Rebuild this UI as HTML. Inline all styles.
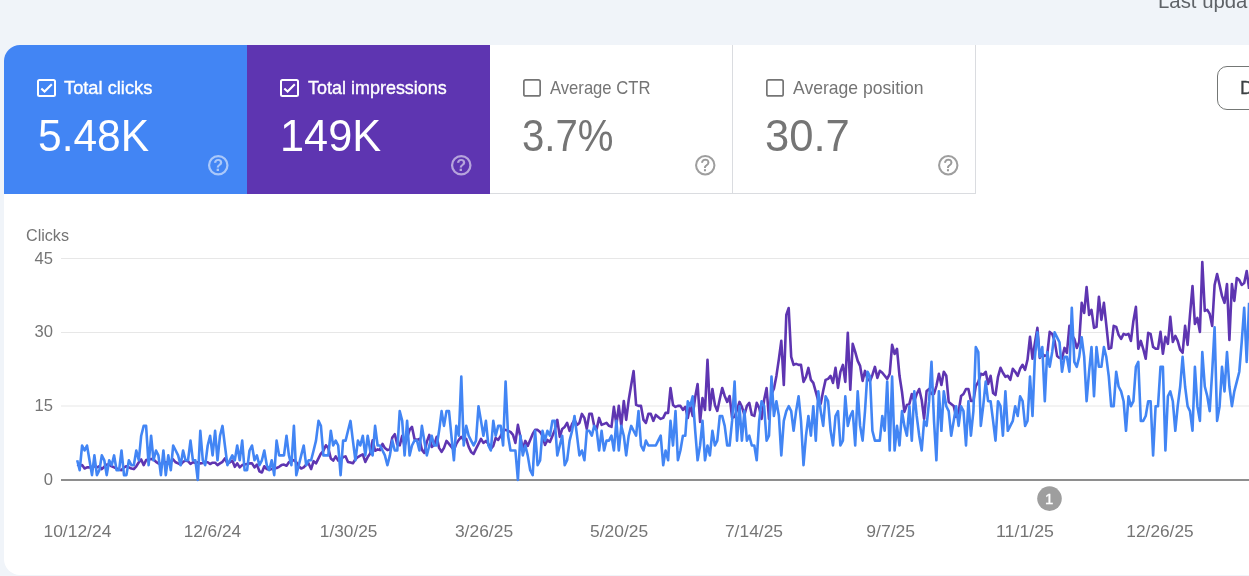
<!DOCTYPE html>
<html><head><meta charset="utf-8"><title>Performance</title>
<style>
html,body{margin:0;padding:0;}
body{width:1249px;height:576px;overflow:hidden;background:#f0f4f9;font-family:"Liberation Sans",sans-serif;position:relative;}
.upd{position:absolute;top:-8.8px;font-size:19.4px;line-height:20px;color:#5f6368;white-space:nowrap;transform-origin:0 50%;left:1158.40px;transform:scaleX(1.0500);}
.card{position:absolute;left:4px;top:45px;width:1300px;height:530px;background:#fff;border-radius:16px 0 0 16px;overflow:hidden;}
.m{position:absolute;top:0;height:149px;width:243px;box-sizing:border-box;}
.m1{left:0;background:#4285f4;color:#fff;}
.m2{left:243px;background:#5e35b1;color:#fff;}
.m3{left:486px;border-right:1px solid #dadce0;border-bottom:1px solid #dadce0;color:#757575;}
.m4{left:729px;border-right:1px solid #dadce0;border-bottom:1px solid #dadce0;color:#757575;}
.cb{position:absolute;left:33px;top:34px;width:19px;height:18px;box-sizing:border-box;border:2px solid #fff;border-radius:2.5px;}
.m3 .cb,.m4 .cb{border:none;width:18px;}
.cb svg{position:absolute;left:-2px;top:-2px;}
.lbl{position:absolute;top:33.1px;font-size:18.2px;line-height:20px;white-space:nowrap;transform-origin:0 50%;}
.m1 .lbl,.m2 .lbl{-webkit-text-stroke:0.35px #fff;}
.val{position:absolute;top:67px;font-size:45px;line-height:48px;white-space:nowrap;transform-origin:0 50%;}
.q{position:absolute;left:202.45px;top:107.7px;width:24.5px;height:24.5px;}
.btn{position:absolute;left:1213px;top:21.3px;width:80px;height:43.4px;border:1px solid #747775;border-radius:10px;box-sizing:border-box;color:#3c4043;font-size:18.8px;-webkit-text-stroke:0.3px #3c4043;line-height:41px;padding-left:22px;white-space:nowrap;overflow:hidden;}
.m3 .q,.m4 .q{left:203.1px;}
svg.chart{position:absolute;left:-4px;top:-45px;}
svg text{font-family:"Liberation Sans",sans-serif;}
</style></head><body>
<div class="upd">Last updated: 3 hours ago</div>
<div class="card">
 <div class="m m1"><div class="cb"><svg width="19" height="18" viewBox="0 0 19 18"><path d="M4.3 9.4 L7.6 12.6 L14.8 5.3" fill="none" stroke="#fff" stroke-width="2.1"/></svg></div><div class="lbl" style="left:60.20px;transform:scaleX(1.0040);">Total clicks</div><div class="val" style="left:33.50px;transform:scaleX(0.9440);">5.48K</div>
  <svg class="q" viewBox="0 0 24 24"><circle cx="12" cy="12" r="9" fill="none" stroke="#fff" stroke-opacity=".55" stroke-width="2.2"/><text x="12" y="18.1" font-size="15.8" font-weight="bold" text-anchor="middle" fill="#fff" fill-opacity=".55">?</text></svg></div>
 <div class="m m2"><div class="cb"><svg width="19" height="18" viewBox="0 0 19 18"><path d="M4.3 9.4 L7.6 12.6 L14.8 5.3" fill="none" stroke="#fff" stroke-width="2.1"/></svg></div><div class="lbl" style="left:60.50px;transform:scaleX(0.9880);">Total impressions</div><div class="val" style="left:32.50px;transform:scaleX(0.9620);">149K</div>
  <svg class="q" viewBox="0 0 24 24"><circle cx="12" cy="12" r="9" fill="none" stroke="#fff" stroke-opacity=".55" stroke-width="2.2"/><text x="12" y="18.1" font-size="15.8" font-weight="bold" text-anchor="middle" fill="#fff" fill-opacity=".55">?</text></svg></div>
 <div class="m m3"><div class="cb"><svg style="left:0;top:0" width="18" height="18" viewBox="0 0 18 18"><rect x="0.85" y="0.85" width="16.3" height="16.1" rx="1.8" fill="none" stroke="#757575" stroke-width="1.7"/></svg></div><div class="lbl" style="left:59.80px;transform:scaleX(0.9140);">Average CTR</div><div class="val" style="left:32.40px;transform:scaleX(0.8930);">3.7%</div>
  <svg class="q" viewBox="0 0 24 24"><circle cx="12" cy="12" r="9" fill="none" stroke="#757575" stroke-opacity=".7" stroke-width="2"/><text x="12" y="18.1" font-size="15.8" font-weight="normal" stroke="#757575" stroke-opacity=".7" stroke-width=".45" text-anchor="middle" fill="#757575" fill-opacity=".7">?</text></svg></div>
 <div class="m m4"><div class="cb"><svg style="left:0;top:0" width="18" height="18" viewBox="0 0 18 18"><rect x="0.85" y="0.85" width="16.3" height="16.1" rx="1.8" fill="none" stroke="#757575" stroke-width="1.7"/></svg></div><div class="lbl" style="left:59.70px;transform:scaleX(0.9660);">Average position</div><div class="val" style="left:32.40px;transform:scaleX(0.9690);">30.7</div>
  <svg class="q" viewBox="0 0 24 24"><circle cx="12" cy="12" r="9" fill="none" stroke="#757575" stroke-opacity=".7" stroke-width="2"/><text x="12" y="18.1" font-size="15.8" font-weight="normal" stroke="#757575" stroke-opacity=".7" stroke-width=".45" text-anchor="middle" fill="#757575" fill-opacity=".7">?</text></svg></div>
 <div class="btn">Date: Last 16 months</div>
 <svg class="chart" width="1304" height="576" viewBox="0 0 1304 576">
  <g stroke="#e7e7e7" stroke-width="1.1">
   <line x1="61" x2="1304" y1="258.5" y2="258.5"/><line x1="61" x2="1304" y1="332.5" y2="332.5"/><line x1="61" x2="1304" y1="406" y2="406"/>
  </g>
  <line x1="61" x2="1304" y1="480" y2="480" stroke="#8e8e8e" stroke-width="2"/>
  <g font-size="16.6" fill="#757575">
   <text x="26" y="241.3" textLength="43" lengthAdjust="spacingAndGlyphs">Clicks</text>
   <text x="53" y="264" text-anchor="end">45</text>
   <text x="53" y="337.2" text-anchor="end">30</text>
   <text x="53" y="411" text-anchor="end">15</text>
   <text x="53" y="484.6" text-anchor="end">0</text>
   <g text-anchor="middle">
   <text x="77.4" y="537.2" textLength="67.9" lengthAdjust="spacingAndGlyphs">10/12/24</text>
   <text x="212.4" y="537.2" textLength="57.5" lengthAdjust="spacingAndGlyphs">12/6/24</text>
   <text x="348.6" y="537.2" textLength="57.5" lengthAdjust="spacingAndGlyphs">1/30/25</text>
   <text x="484.0" y="537.2" textLength="58.2" lengthAdjust="spacingAndGlyphs">3/26/25</text>
   <text x="619.1" y="537.2" textLength="58.1" lengthAdjust="spacingAndGlyphs">5/20/25</text>
   <text x="754.0" y="537.2" textLength="58.1" lengthAdjust="spacingAndGlyphs">7/14/25</text>
   <text x="890.7" y="537.2" textLength="48.9" lengthAdjust="spacingAndGlyphs">9/7/25</text>
   <text x="1025.0" y="537.2" textLength="58.0" lengthAdjust="spacingAndGlyphs">11/1/25</text>
   <text x="1160.0" y="537.2" textLength="67.3" lengthAdjust="spacingAndGlyphs">12/26/25</text>
   </g>
  </g>
  <polyline fill="none" stroke="#5e35b1" stroke-width="2.6" stroke-linejoin="round" points="77.2,464.6 79.7,465.7 82.1,465.1 84.6,468.5 87.0,467.4 89.5,467.4 92.0,466.8 94.4,466.3 96.9,467.4 99.4,466.3 101.8,469.1 104.3,466.8 106.7,464.6 109.2,464.6 111.7,466.3 114.1,467.4 116.6,468.5 119.1,469.7 121.5,470.2 124.0,467.4 126.4,466.3 128.9,467.4 131.4,468.5 133.8,469.1 136.3,466.3 138.8,462.3 141.2,459.5 143.7,465.1 146.1,460.1 148.6,459.5 151.1,458.9 153.5,459.5 156.0,461.8 158.4,463.4 160.9,464.0 163.4,462.9 165.8,462.3 168.3,463.4 170.8,461.8 173.2,459.5 175.7,462.3 178.1,463.4 180.6,464.6 183.1,461.8 185.5,460.6 188.0,461.2 190.5,464.0 192.9,462.3 195.4,462.9 197.8,462.3 200.3,463.4 202.8,462.9 205.2,462.3 207.7,462.3 210.1,464.0 212.6,462.7 215.1,462.7 217.5,465.1 220.0,463.4 222.5,461.8 224.9,458.4 227.4,463.4 229.8,462.3 232.3,460.6 234.8,466.8 237.2,463.4 239.7,467.4 242.2,465.1 244.6,464.6 247.1,464.0 249.5,463.4 252.0,463.4 254.5,467.4 256.9,464.6 259.4,471.3 261.9,472.5 264.3,466.3 266.8,469.1 269.2,469.7 271.7,469.1 274.2,468.5 276.6,468.0 279.1,466.8 281.5,465.1 284.0,464.6 286.5,465.7 288.9,462.3 291.4,461.2 293.9,460.1 296.3,462.3 298.8,466.3 301.2,468.5 303.7,467.4 306.2,464.6 308.6,463.4 311.1,469.1 313.6,461.2 316.0,463.4 318.5,458.4 320.9,453.6 323.4,450.8 325.9,445.3 328.3,448.1 330.8,458.5 333.2,460.6 335.7,456.4 338.2,460.6 340.6,459.9 343.1,457.1 345.6,456.4 348.0,461.9 350.5,462.6 352.9,463.3 355.4,459.2 357.9,457.1 360.3,455.7 362.8,454.3 365.3,461.9 367.7,457.1 370.2,453.6 372.6,440.4 375.1,450.8 377.6,449.4 380.0,450.1 382.5,443.9 384.9,448.1 387.4,450.1 389.9,449.4 392.3,437.6 394.8,434.2 397.3,444.6 399.7,445.3 402.2,435.9 404.6,445.9 407.1,437.9 409.6,429.9 412.0,426.9 414.5,438.9 417.0,439.9 419.4,438.9 421.9,449.9 424.3,452.9 426.8,441.9 429.3,434.9 431.7,446.9 434.2,444.9 436.7,436.9 439.1,447.9 441.6,451.9 444.0,447.9 446.5,440.9 449.0,443.9 451.4,446.9 453.9,449.9 456.3,443.9 458.8,439.9 461.3,436.9 463.7,439.9 466.2,438.9 468.7,446.9 471.1,451.9 473.6,453.9 476.0,448.9 478.5,443.9 481.0,438.9 483.4,442.9 485.9,440.9 488.4,443.9 490.8,448.9 493.3,445.9 495.7,437.9 498.2,439.9 500.7,435.9 503.1,430.9 505.6,429.9 508.1,430.9 510.5,431.9 513.0,434.9 515.4,442.9 517.9,424.9 520.4,436.9 522.8,448.9 525.3,440.9 527.7,445.9 530.2,439.9 532.7,433.9 535.1,429.9 537.6,429.9 540.1,431.9 542.5,435.9 545.0,444.9 547.4,439.9 549.9,441.9 552.4,435.9 554.8,429.9 557.3,419.9 559.8,436.9 562.2,428.9 564.7,426.9 567.1,422.9 569.6,430.9 572.1,423.9 574.5,419.9 577.0,424.9 579.4,422.9 581.9,413.9 584.4,417.9 586.8,428.9 589.3,413.9 591.8,413.9 594.2,425.9 596.7,428.9 599.1,417.9 601.6,424.9 604.1,423.9 606.5,422.9 609.0,425.9 611.5,426.9 613.9,406.9 616.4,424.9 618.8,405.9 621.3,425.9 623.8,401.0 626.2,419.9 628.7,400.0 631.2,385.0 633.6,371.0 636.1,404.9 638.5,405.9 641.0,405.9 643.5,419.9 645.9,422.9 648.4,413.9 650.8,413.9 653.3,420.9 655.8,414.9 658.2,416.9 660.7,418.9 663.2,417.9 665.6,412.9 668.1,412.9 670.5,388.0 673.0,404.9 675.5,406.9 677.9,405.9 680.4,405.9 682.9,409.9 685.3,406.9 687.8,417.9 690.2,404.9 692.7,415.9 695.2,397.0 697.6,384.0 700.1,421.9 702.5,398.0 705.0,409.9 707.5,359.9 709.9,409.9 712.4,389.0 714.9,404.9 717.3,410.9 719.8,399.0 722.2,388.0 724.7,396.0 727.2,401.9 729.6,396.0 732.1,417.9 734.6,416.9 737.0,409.9 739.5,401.9 741.9,406.9 744.4,414.9 746.9,405.9 749.3,402.9 751.8,414.9 754.3,415.9 756.7,402.9 759.2,407.9 761.6,418.9 764.1,400.0 766.6,388.0 769.0,418.9 771.5,394.0 773.9,388.8 776.4,375.9 778.9,358.9 781.3,340.9 783.8,384.9 786.3,315.0 788.7,308.0 791.2,356.9 793.6,364.9 796.1,363.9 798.6,364.9 801.0,364.9 803.5,381.9 806.0,376.9 808.4,367.9 810.9,379.9 813.3,382.9 815.8,391.8 818.3,400.8 820.7,403.8 823.2,390.8 825.6,379.9 828.1,378.9 830.6,375.9 833.0,382.9 835.5,367.9 838.0,387.9 840.4,371.9 842.9,364.9 845.3,381.9 847.8,332.9 850.3,389.8 852.7,343.9 855.2,351.9 857.7,360.9 860.1,365.9 862.6,380.9 865.0,370.9 867.5,378.9 870.0,380.9 872.4,374.9 874.9,366.9 877.4,377.9 879.8,370.8 882.3,372.8 884.7,375.8 887.2,378.8 889.7,373.8 892.1,344.9 894.6,353.9 897.0,348.9 899.5,375.8 902.0,392.0 904.4,411.9 906.9,404.9 909.4,403.9 911.8,394.0 914.3,401.0 916.7,394.0 919.2,389.0 921.7,400.0 924.1,418.9 926.6,391.0 929.1,389.0 931.5,394.0 934.0,394.0 936.4,386.0 938.9,373.8 941.4,385.0 943.8,371.8 946.3,375.8 948.7,401.9 951.2,403.9 953.7,405.9 956.1,416.9 958.6,411.9 961.1,396.0 963.5,394.0 966.0,389.0 968.4,389.0 970.9,401.0 973.4,401.0 975.8,386.0 978.3,382.0 980.8,373.8 983.2,374.8 985.7,371.8 988.1,384.0 990.6,375.8 993.1,393.0 995.5,395.0 998.0,376.8 1000.5,367.8 1002.9,372.8 1005.4,376.8 1007.8,375.8 1010.3,379.8 1012.8,368.8 1015.2,371.8 1017.7,375.8 1020.1,368.8 1022.6,364.8 1025.1,369.8 1027.5,359.8 1030.0,336.9 1032.5,358.8 1034.9,342.9 1037.4,327.9 1039.8,357.9 1042.3,353.9 1044.8,355.9 1047.2,354.9 1049.7,331.9 1052.2,333.9 1054.6,340.9 1057.1,355.9 1059.5,357.9 1062.0,358.8 1064.5,347.9 1066.9,352.9 1069.4,325.9 1071.8,334.9 1074.3,338.9 1076.8,347.9 1079.2,341.9 1081.7,302.9 1084.2,312.9 1086.6,287.0 1089.1,314.9 1091.5,309.9 1094.0,327.9 1096.5,326.9 1098.9,296.9 1101.4,319.9 1103.9,302.9 1106.3,324.9 1108.8,348.8 1111.2,347.9 1113.7,325.9 1116.2,326.9 1118.6,334.9 1121.1,338.9 1123.6,333.9 1126.0,334.9 1128.5,333.9 1130.9,340.9 1133.4,320.9 1135.9,306.9 1138.3,348.8 1140.8,340.9 1143.2,348.8 1145.7,358.8 1148.2,332.9 1150.6,333.9 1153.1,346.9 1155.6,348.8 1158.0,348.8 1160.5,331.9 1162.9,353.8 1165.4,336.9 1167.9,343.9 1170.3,316.9 1172.8,341.9 1175.3,335.9 1177.7,340.9 1180.2,349.8 1182.6,352.8 1185.1,325.9 1187.6,344.9 1190.0,314.9 1192.5,286.0 1194.9,323.9 1197.4,317.9 1199.9,331.9 1202.3,262.0 1204.8,310.9 1207.3,309.9 1209.7,313.9 1212.2,325.9 1214.6,285.0 1217.1,274.0 1219.6,285.0 1222.0,295.9 1224.5,302.9 1227.0,284.0 1229.4,339.9 1231.9,284.0 1234.3,300.9 1236.8,278.0 1239.3,280.0 1241.7,285.0 1244.2,283.0 1246.7,271.0 1249.1,288.9"/>
  <polyline fill="none" stroke="#4285f4" stroke-width="2.6" stroke-linejoin="round" points="77.2,460.3 79.7,470.2 82.1,445.5 84.6,450.5 87.0,445.5 89.5,460.3 92.0,475.1 94.4,455.4 96.9,475.1 99.4,470.2 101.8,455.4 104.3,460.3 106.7,475.1 109.2,460.3 111.7,465.2 114.1,455.4 116.6,470.2 119.1,470.2 121.5,450.5 124.0,475.1 126.4,475.1 128.9,460.3 131.4,465.2 133.8,465.2 136.3,450.5 138.8,460.3 141.2,435.7 143.7,425.9 146.1,425.9 148.6,465.2 151.1,435.7 153.5,460.3 156.0,450.5 158.4,455.4 160.9,475.1 163.4,450.5 165.8,475.1 168.3,455.4 170.8,470.2 173.2,445.5 175.7,450.5 178.1,455.4 180.6,465.2 183.1,450.5 185.5,460.3 188.0,460.3 190.5,440.6 192.9,460.3 195.4,460.3 197.8,480.0 200.3,430.8 202.8,460.3 205.2,465.2 207.7,445.5 210.1,435.7 212.6,455.4 215.1,430.8 217.5,460.3 220.0,435.7 222.5,425.9 224.9,445.5 227.4,465.2 229.8,460.3 232.3,455.4 234.8,460.3 237.2,445.5 239.7,460.3 242.2,440.6 244.6,470.2 247.1,470.2 249.5,450.5 252.0,445.5 254.5,460.3 256.9,455.4 259.4,465.2 261.9,460.3 264.3,450.5 266.8,465.2 269.2,470.2 271.7,460.3 274.2,475.1 276.6,440.6 279.1,455.4 281.5,455.4 284.0,455.4 286.5,435.7 288.9,455.4 291.4,465.2 293.9,425.9 296.3,475.1 298.8,465.2 301.2,455.4 303.7,445.5 306.2,465.2 308.6,460.3 311.1,460.3 313.6,450.5 316.0,440.6 318.5,420.9 320.9,425.9 323.4,455.4 325.9,455.4 328.3,455.4 330.8,430.8 333.2,445.5 335.7,440.6 338.2,445.5 340.6,475.1 343.1,440.6 345.6,440.6 348.0,430.8 350.5,420.9 352.9,440.6 355.4,460.3 357.9,440.6 360.3,445.5 362.8,435.7 365.3,455.4 367.7,435.7 370.2,450.5 372.6,455.4 375.1,425.9 377.6,445.5 380.0,445.5 382.5,450.5 384.9,455.4 387.4,465.2 389.9,455.4 392.3,440.6 394.8,450.5 397.3,450.5 399.7,411.1 402.2,420.9 404.6,455.4 407.1,420.9 409.6,455.4 412.0,445.5 414.5,440.6 417.0,440.6 419.4,450.5 421.9,425.9 424.3,440.6 426.8,455.4 429.3,445.5 431.7,435.7 434.2,445.5 436.7,445.5 439.1,430.8 441.6,411.1 444.0,425.9 446.5,411.1 449.0,411.1 451.4,435.7 453.9,460.3 456.3,425.9 458.8,435.7 461.3,376.6 463.7,445.5 466.2,425.9 468.7,435.7 471.1,440.6 473.6,445.5 476.0,440.6 478.5,406.2 481.0,420.9 483.4,435.7 485.9,420.9 488.4,445.5 490.8,450.5 493.3,420.9 495.7,435.7 498.2,425.9 500.7,425.9 503.1,445.5 505.6,381.6 508.1,435.7 510.5,450.5 513.0,450.5 515.4,450.5 517.9,480.0 520.4,435.7 522.8,455.4 525.3,445.5 527.7,455.4 530.2,470.2 532.7,475.1 535.1,430.8 537.6,465.2 540.1,460.3 542.5,430.8 545.0,440.6 547.4,430.8 549.9,435.7 552.4,420.9 554.8,420.9 557.3,455.4 559.8,445.5 562.2,435.7 564.7,465.2 567.1,460.3 569.6,440.6 572.1,430.8 574.5,416.0 577.0,435.7 579.4,455.4 581.9,450.5 584.4,460.3 586.8,430.8 589.3,430.8 591.8,435.7 594.2,425.9 596.7,430.8 599.1,450.5 601.6,430.8 604.1,450.5 606.5,440.6 609.0,440.6 611.5,435.7 613.9,450.5 616.4,420.9 618.8,450.5 621.3,425.9 623.8,435.7 626.2,455.4 628.7,435.7 631.2,425.9 633.6,430.8 636.1,435.7 638.5,411.1 641.0,445.5 643.5,450.5 645.9,440.6 648.4,445.5 650.8,445.5 653.3,445.5 655.8,445.5 658.2,440.6 660.7,435.7 663.2,465.2 665.6,450.5 668.1,460.3 670.5,420.9 673.0,445.5 675.5,411.1 677.9,460.3 680.4,450.5 682.9,435.7 685.3,435.7 687.8,401.2 690.2,406.2 692.7,396.3 695.2,430.8 697.6,460.3 700.1,445.5 702.5,420.9 705.0,460.3 707.5,445.5 709.9,455.4 712.4,430.8 714.9,445.5 717.3,440.6 719.8,416.0 722.2,416.0 724.7,425.9 727.2,445.5 729.6,445.5 732.1,420.9 734.6,381.6 737.0,440.6 739.5,406.2 741.9,440.6 744.4,411.1 746.9,440.6 749.3,435.7 751.8,445.5 754.3,445.5 756.7,460.3 759.2,420.9 761.6,401.2 764.1,406.2 766.6,440.6 769.0,435.7 771.5,376.6 773.9,416.0 776.4,401.2 778.9,416.0 781.3,455.4 783.8,420.9 786.3,411.1 788.7,406.2 791.2,411.1 793.6,430.8 796.1,411.1 798.6,396.3 801.0,420.9 803.5,465.2 806.0,435.7 808.4,416.0 810.9,435.7 813.3,406.2 815.8,440.6 818.3,391.4 820.7,411.1 823.2,425.9 825.6,396.3 828.1,401.2 830.6,430.8 833.0,445.5 835.5,416.0 838.0,411.1 840.4,445.5 842.9,440.6 845.3,396.3 847.8,425.9 850.3,416.0 852.7,411.1 855.2,445.5 857.7,391.4 860.1,425.9 862.6,440.6 865.0,411.1 867.5,371.7 870.0,376.6 872.4,430.8 874.9,440.6 877.4,440.6 879.8,440.6 882.3,416.0 884.7,430.8 887.2,381.6 889.7,450.5 892.1,376.6 894.6,450.5 897.0,425.9 899.5,445.5 902.0,411.1 904.4,425.9 906.9,435.7 909.4,406.2 911.8,440.6 914.3,391.4 916.7,416.0 919.2,435.7 921.7,450.5 924.1,420.9 926.6,425.9 929.1,401.2 931.5,361.9 934.0,420.9 936.4,460.3 938.9,391.4 941.4,430.8 943.8,391.4 946.3,406.2 948.7,411.1 951.2,435.7 953.7,420.9 956.1,406.2 958.6,425.9 961.1,406.2 963.5,411.1 966.0,445.5 968.4,401.2 970.9,435.7 973.4,411.1 975.8,347.1 978.3,352.0 980.8,425.9 983.2,406.2 985.7,381.6 988.1,401.2 990.6,401.2 993.1,420.9 995.5,440.6 998.0,401.2 1000.5,406.2 1002.9,435.7 1005.4,391.4 1007.8,430.8 1010.3,425.9 1012.8,420.9 1015.2,406.2 1017.7,416.0 1020.1,396.3 1022.6,401.2 1025.1,425.9 1027.5,420.9 1030.0,376.6 1032.5,416.0 1034.9,356.9 1037.4,332.3 1039.8,356.9 1042.3,347.1 1044.8,401.2 1047.2,352.0 1049.7,366.8 1052.2,352.0 1054.6,332.3 1057.1,337.3 1059.5,342.2 1062.0,371.7 1064.5,356.9 1066.9,356.9 1069.4,371.7 1071.8,307.7 1074.3,361.9 1076.8,366.8 1079.2,356.9 1081.7,337.3 1084.2,356.9 1086.6,401.2 1089.1,371.7 1091.5,347.1 1094.0,396.3 1096.5,347.1 1098.9,366.8 1101.4,366.8 1103.9,347.1 1106.3,356.9 1108.8,376.6 1111.2,406.2 1113.7,406.2 1116.2,371.7 1118.6,386.5 1121.1,391.4 1123.6,401.2 1126.0,430.8 1128.5,396.3 1130.9,406.2 1133.4,401.2 1135.9,366.8 1138.3,361.9 1140.8,420.9 1143.2,420.9 1145.7,416.0 1148.2,401.2 1150.6,401.2 1153.1,455.4 1155.6,406.2 1158.0,406.2 1160.5,366.8 1162.9,366.8 1165.4,450.5 1167.9,396.3 1170.3,391.4 1172.8,401.2 1175.3,430.8 1177.7,406.2 1180.2,386.5 1182.6,356.9 1185.1,386.5 1187.6,406.2 1190.0,411.1 1192.5,430.8 1194.9,366.8 1197.4,406.2 1199.9,420.9 1202.3,352.0 1204.8,386.5 1207.3,396.3 1209.7,411.1 1212.2,371.7 1214.6,327.4 1217.1,420.9 1219.6,406.2 1222.0,366.8 1224.5,391.4 1227.0,352.0 1229.4,386.5 1231.9,406.2 1234.3,391.4 1236.8,381.6 1239.3,371.7 1241.7,342.2 1244.2,307.7 1246.7,361.9 1249.1,302.8"/>
  <circle cx="1049.5" cy="498.6" r="12.3" fill="#9e9e9e"/>
  <text x="1049.2" y="503.9" font-size="15" stroke="#fff" stroke-width="0.35" fill="#fff" text-anchor="middle">1</text>
 </svg>
</div>
</body></html>
